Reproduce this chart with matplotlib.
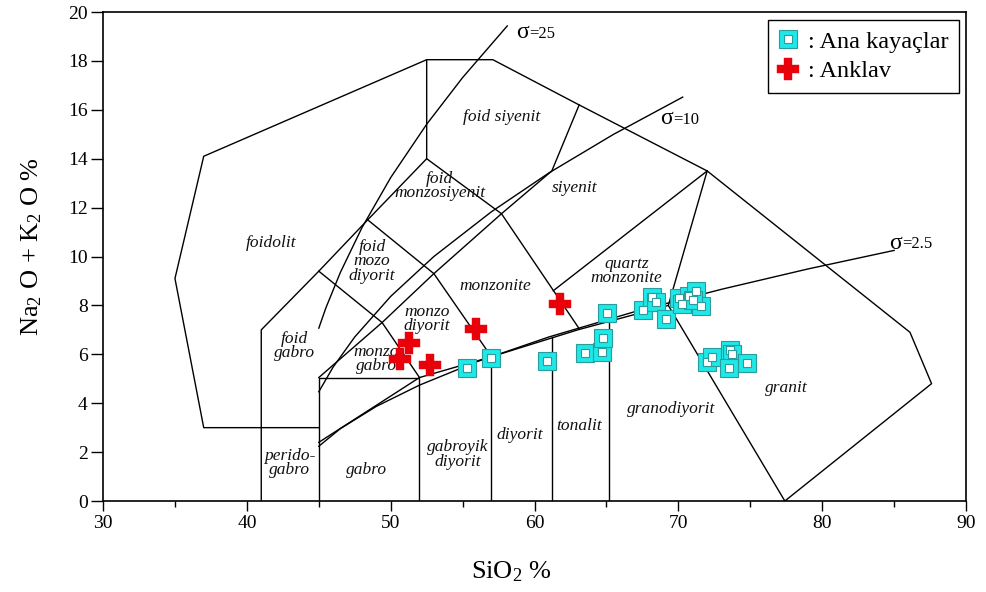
import matplotlib
matplotlib.use("Agg")
import matplotlib.pyplot as plt
from matplotlib.lines import Line2D
from matplotlib.legend_handler import HandlerTuple

plt.rcParams['font.family'] = ['Liberation Serif', 'DejaVu Serif']
plt.rcParams['mathtext.fontset'] = 'custom'
plt.rcParams['mathtext.rm'] = 'Liberation Serif'
plt.rcParams['mathtext.it'] = 'Liberation Serif:italic'

# field boundaries (SiO2, Na2O+K2O)
outer = [(45, 3), (37, 3), (35, 9.1), (37, 14.1), (52.5, 18.05), (57.1, 18.05),
         (63.1, 16.2), (72, 13.5), (86.1, 6.9), (87.6, 4.8), (77.4, 0)]
granite_left = [(77.4, 0), (69.3, 8), (72, 13.5)]
foidolite_in = [(41, 0), (41, 7), (45, 9.4), (48.4, 11.5), (52.5, 14), (52.5, 18.05)]
monzosyenite_r = [(52.5, 14), (57.7, 11.75), (63.1, 7.05)]
monzodiorite_r = [(48.4, 11.5), (53, 9.3), (57, 5.9)]
monzogabbro_r = [(45, 9.4), (49.4, 7.3), (52, 5.05)]
foid_line = [(45, 5.05), (49.4, 7.3), (53, 9.3), (57.7, 11.75), (61.2, 13.5), (63.1, 16.2)]
syenite_low = [(61.3, 8.6), (72, 13.5)]
gabbro_box = [(45, 0), (45, 5.05), (52, 5.05), (52, 0)]
lower_bound = [(45, 2.4), (52, 5.05), (57, 5.9), (63, 7), (69.3, 8)]
v57 = [(57, 0), (57, 5.9)]
v61 = [(61.2, 0), (61.2, 6.7)]
v65 = [(65.2, 0), (65.2, 7.35)]

# sigma (Rittmann) lines
sig25 = [(45, 7.07), (45.5, 7.91), (46.5, 9.35), (48, 11.18), (50, 13.23),
         (52.5, 15.41), (55, 17.32), (58.1, 19.43)]
sig10 = [(45, 4.47), (46, 5.48), (47.5, 6.71), (50, 8.37), (53, 10.0), (57, 11.83),
         (61, 13.42), (65.5, 15.0), (70.3, 16.52)]
sig2_5 = [(45, 2.24), (46.5, 2.96), (49, 3.87), (52, 4.74), (56, 5.70), (61, 6.71),
          (67, 7.75), (73, 8.66), (79, 9.49), (85, 10.25)]

# samples
ana_x = [55.30, 56.94, 60.87, 63.52, 64.70, 64.74, 65.05, 67.53, 68.13, 68.47, 69.13,
         70.07, 70.28, 70.76, 71.25, 71.56, 71.04, 72.01, 72.36, 73.61, 73.75, 73.54, 74.79]
ana_y = [5.45, 5.84, 5.71, 6.07, 6.11, 6.65, 7.71, 7.81, 8.34, 8.14, 7.44,
         8.30, 8.06, 8.38, 8.59, 7.98, 8.22, 5.69, 5.89, 6.18, 6.01, 5.44, 5.64]
ank_x = [51.27, 50.63, 52.71, 55.95, 61.74]
ank_y = [6.47, 5.80, 5.56, 7.02, 8.06]

labels = [
    ("foidolit", 41.7, 10.55), ("foid siyenit", 57.7, 15.7),
    ("foid\nmonzosiyenit", 53.4, 12.9), ("foid\nmozo\ndiyorit", 48.7, 9.8),
    ("siyenit", 62.8, 12.8), ("monzonite", 57.3, 8.8),
    ("quartz\nmonzonite", 66.4, 9.4), ("monzo\ndiyorit", 52.5, 7.45),
    ("monzo\ngabro", 49.0, 5.8), ("foid\ngabro", 43.3, 6.35),
    ("perido-\ngabro", 43.0, 1.55), ("gabro", 48.3, 1.27),
    ("gabroyik\ndiyorit", 54.65, 1.9), ("diyorit", 59.0, 2.7),
    ("tonalit", 63.1, 3.05), ("granodiyorit", 69.5, 3.75), ("granit", 77.5, 4.63),
]
sigma_labels = [("=25", 58.7, 19.15), ("=10", 68.75, 15.65), ("=2.5", 84.65, 10.55)]

fig = plt.figure(figsize=(9.86, 5.92), dpi=100)
ax = fig.add_axes([0.1045, 0.1537, 0.8753, 0.826])

for line in [outer, granite_left, foidolite_in, monzosyenite_r, monzodiorite_r,
             monzogabbro_r, foid_line, syenite_low, gabbro_box, lower_bound,
             v57, v61, v65, sig25, sig10, sig2_5]:
    xs, ys = zip(*line)
    ax.plot(xs, ys, color='black', lw=1.0, zorder=2)

for txt, x, y in labels:
    ax.text(x, y, txt, ha='center', va='center', style='italic', fontsize=12.5,
            linespacing=0.85, color='#111111', zorder=3)

for txt, x, y in sigma_labels:
    ax.text(x, y, "σ", ha='left', va='center', fontsize=17, zorder=3)
    ax.text(x + 0.9, y - 0.05, txt, ha='left', va='center', fontsize=12, zorder=3)

cyan = '#1FE8E8'
edge = '#2a9c9c'
ax.plot(ana_x, ana_y, ls='none', marker='s', ms=13, mfc=cyan, mec=edge, mew=0.8, zorder=4)
ax.plot(ana_x, ana_y, ls='none', marker='s', ms=6, mfc='white', mec=edge, mew=0.8, zorder=5)
ax.plot(ank_x, ank_y, ls='none', marker='P', ms=16.5, mfc='#E8000B', mec='#E8000B', mew=0.3, zorder=6)

h1 = (Line2D([], [], ls='none', marker='s', ms=13, mfc=cyan, mec=edge, mew=0.8),
      Line2D([], [], ls='none', marker='s', ms=6, mfc='white', mec=edge, mew=0.8))
h2 = Line2D([], [], ls='none', marker='P', ms=16.5, mfc='#E8000B', mec='#E8000B', mew=0.3)
leg = ax.legend([h1, h2], [": Ana kayaçlar", ": Anklav"], loc='upper right',
                bbox_to_anchor=(0.992, 0.984), borderaxespad=0, fontsize=17.5,
                handler_map={tuple: HandlerTuple(ndivide=1)}, handlelength=0.8,
                handletextpad=0.4, labelspacing=0.3, borderpad=0.45,
                fancybox=False, framealpha=1, edgecolor='black')
leg.get_frame().set_linewidth(1.0)

ax.set_xlim(30, 90)
ax.set_ylim(0, 20)
ax.set_xticks(range(30, 91, 10))
ax.set_xticks(range(35, 90, 10), minor=True)
ax.set_yticks(range(0, 21, 2))
ax.tick_params(axis='x', which='major', direction='out', length=7, width=1, labelsize=14, pad=3)
ax.tick_params(axis='x', which='minor', direction='out', length=4, width=1)
ax.tick_params(axis='y', direction='out', length=9, width=1, labelsize=14, pad=2)
for s in ax.spines.values():
    s.set_linewidth(1.2)

ax.set_xlabel("SiO$_2$ %", fontsize=19)
ax.xaxis.set_label_coords(0.473, -0.12)
ax.set_ylabel("Na$_2$ O + K$_2$ O %", fontsize=19)
ax.yaxis.set_label_coords(-0.068, 0.52)

fig.savefig("out.png", dpi=100)
